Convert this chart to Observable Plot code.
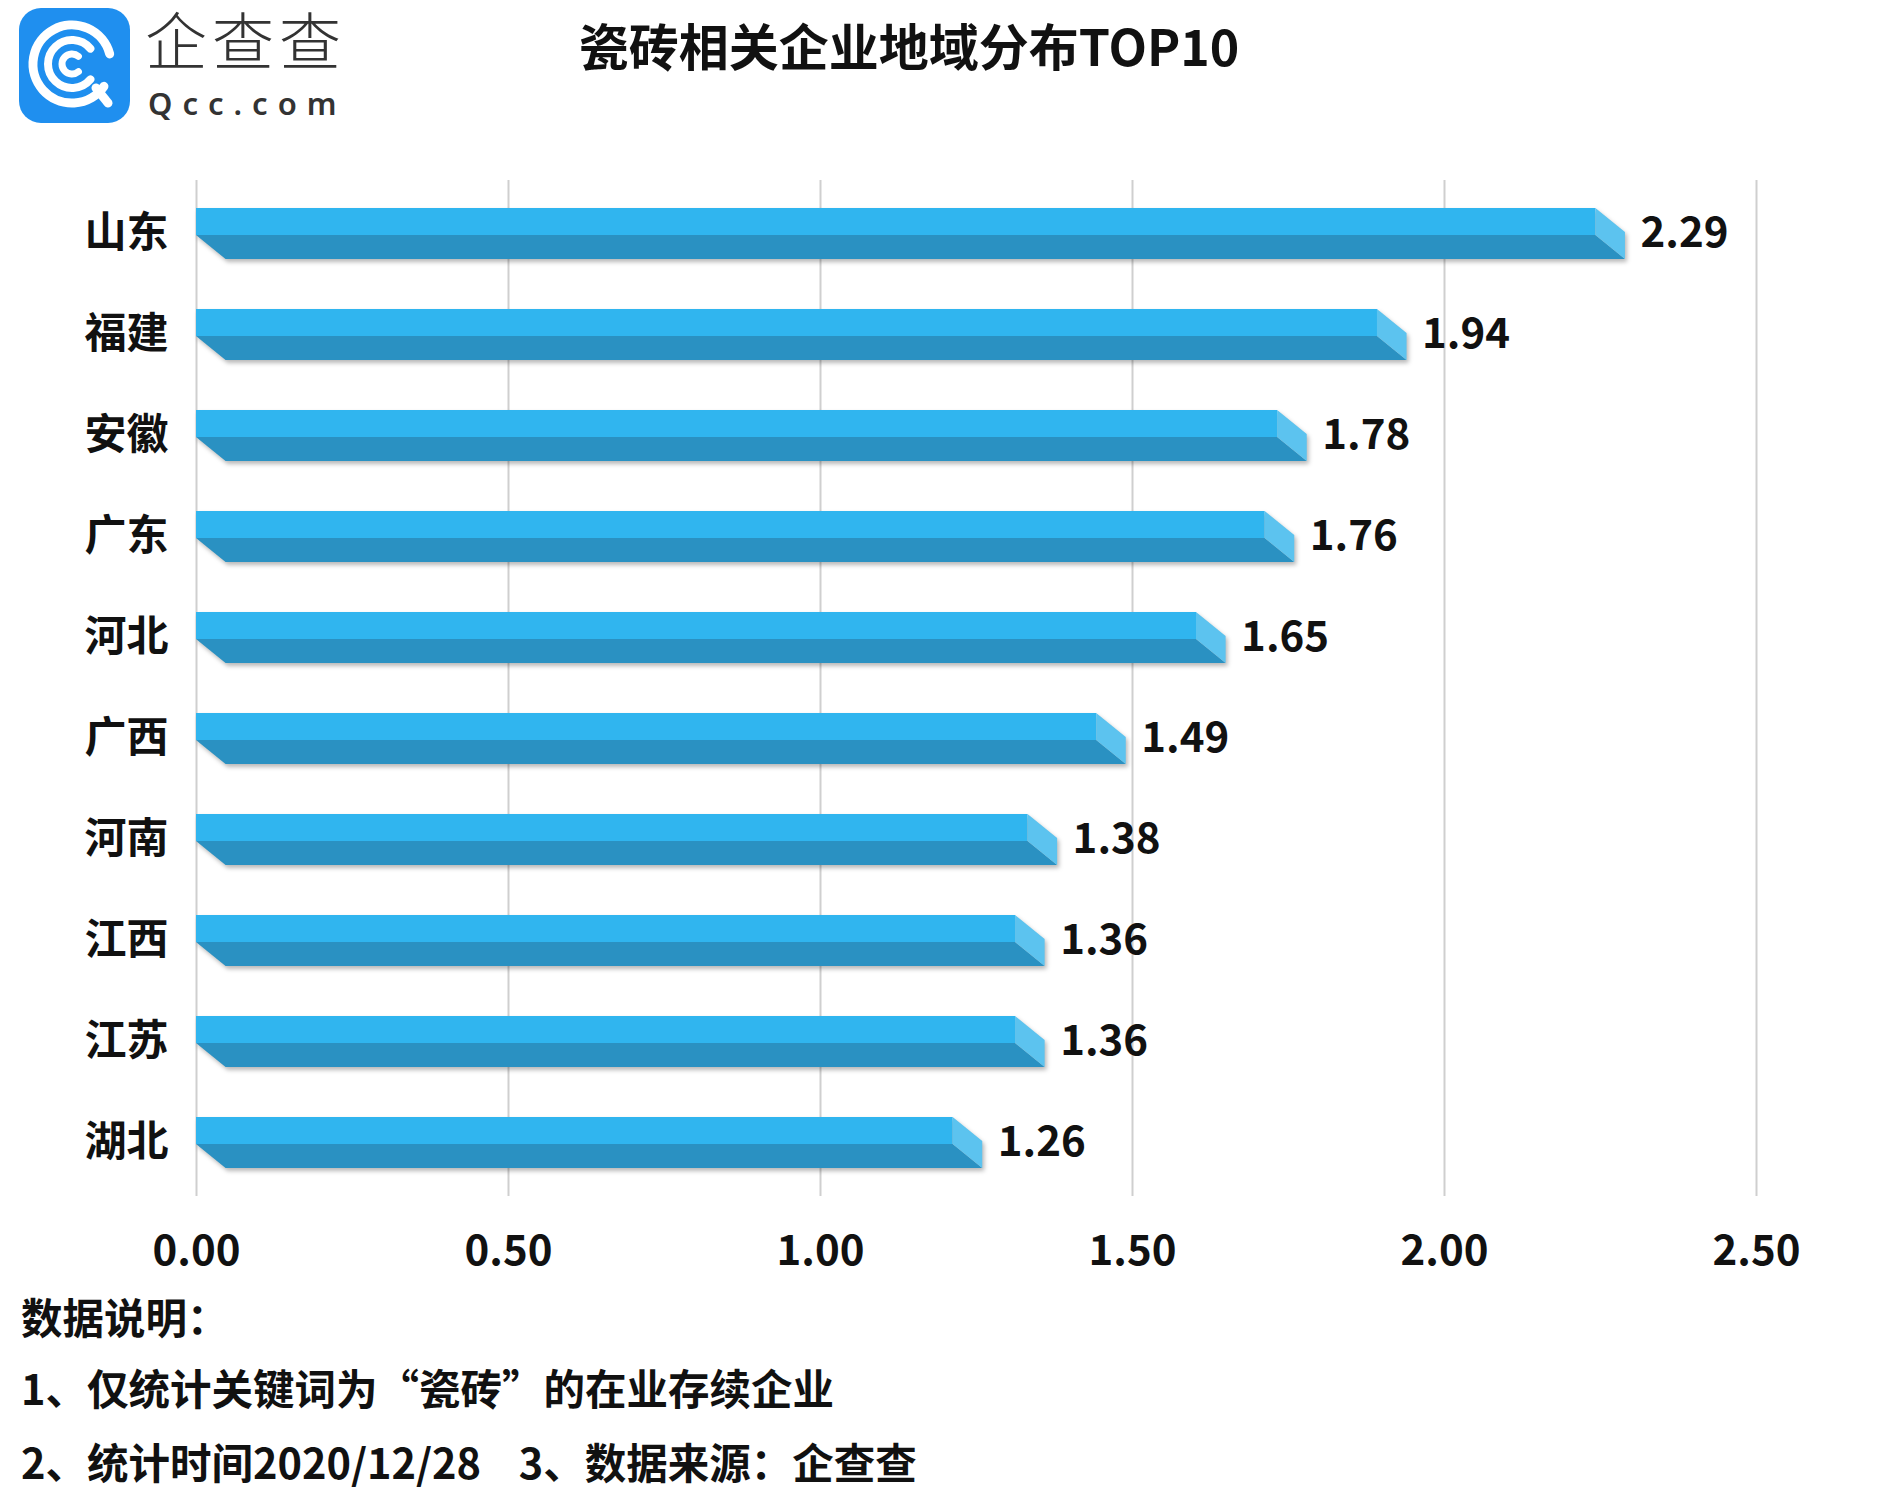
<!DOCTYPE html>
<html>
<head>
<meta charset="utf-8">
<script src="https://cdn.jsdelivr.net/npm/d3@7"></script>
<script src="https://cdn.jsdelivr.net/npm/@observablehq/plot@0.6"></script>
<style>
  html, body { margin: 0; padding: 0; background: #fff; }
  #page { position: relative; width: 1877px; height: 1492px; overflow: hidden; background: #fff;
          font-family: "Noto Sans CJK SC", "Noto Sans", sans-serif; color: #111; }
  #logo { position: absolute; left: 0; top: 0; }
  .logotext { position: absolute; white-space: nowrap; color: #333; }
  #title { position: absolute; left: 909px; top: 17px; transform: translateX(-50%); font-size: 50px;
           font-weight: 700; line-height: 1.1; white-space: nowrap; color: #111; }
  #chart { position: absolute; left: 0; top: 140px; }
  .note { position: absolute; left: 21px; font-size: 41.5px; font-weight: 700; line-height: 1; white-space: pre; color: #111; }
</style>
</head>
<body>
<div id="page">
  <svg id="logo" width="140" height="135"></svg>
  <div class="logotext" style="left:145px; top:0px; font-size:62px; line-height:76px; letter-spacing:5px; font-weight:300; font-family:'Noto Sans CJK SC', sans-serif;">企查查</div>
  <div class="logotext" style="left:148px; top:88px; font-size:31px; line-height:1; font-weight:600; letter-spacing:10px; font-family:'Noto Sans', sans-serif;">Qcc.com</div>
  <div id="title">瓷砖相关企业地域分布TOP10</div>
  <div id="chart"></div>
  <div class="note" style="top:1296px">数据说明：</div>
  <div class="note" style="top:1367px">1、仅统计关键词为“瓷砖”的在业存续企业</div>
  <div class="note" style="top:1441px">2、统计时间2020/12/28    3、数据来源：企查查</div>
</div>
<script>
// ---- data ----
const regions = ["山东", "福建", "安徽", "广东", "河北", "广西", "河南", "江西", "江苏", "湖北"];
const values  = [2.29, 1.94, 1.78, 1.76, 1.65, 1.49, 1.38, 1.36, 1.36, 1.26];
const xTicks  = [0, 0.5, 1, 1.5, 2, 2.5];

const data = regions.map((name, i) => ({name, value: values[i]}));

// ---- logo (decoration) ----
(function drawLogo() {
  const s = d3.select("#logo");
  s.append("rect").attr("x", 19).attr("y", 8).attr("width", 111).attr("height", 115)
    .attr("rx", 22).attr("fill", "#1f8fef");
  const cx = 72, cy = 64;
  function arcPath(r, a0, a1) {
    const rad = d => d * Math.PI / 180;
    const x0 = cx + r * Math.cos(rad(a0)), y0 = cy + r * Math.sin(rad(a0));
    const x1 = cx + r * Math.cos(rad(a1)), y1 = cy + r * Math.sin(rad(a1));
    const large = ((a1 - a0 + 360) % 360) > 180 ? 1 : 0;
    return `M${x0},${y0}A${r},${r} 0 ${large} 1 ${x1},${y1}`;
  }
  const g = s.append("g").attr("fill", "none").attr("stroke", "#fff").attr("stroke-linecap", "round");
  g.append("path").attr("d", arcPath(39, 35, 345)).attr("stroke-width", 9);
  g.append("path").attr("d", arcPath(24, 40, 320)).attr("stroke-width", 8);
  g.append("path").attr("d", arcPath(10, 50, 310)).attr("stroke-width", 7);
  g.append("line").attr("x1", 96).attr("y1", 88).attr("x2", 108).attr("y2", 103).attr("stroke-width", 9);
})();

// ---- chart ----
const chart = Plot.plot({
  width: 1877,
  height: 1150,
  marginTop: 40,
  marginBottom: 94,
  marginLeft: 196,
  marginRight: 121,
  style: {fontFamily: "'Noto Sans CJK SC', 'Noto Sans', sans-serif", fontSize: "42px", fontWeight: 700, color: "#111", background: "transparent"},
  x: {domain: [0, 2.5], ticks: xTicks, tickFormat: d => d.toFixed(2), tickSize: 0, tickPadding: 39, label: null},
  y: {domain: regions, paddingInner: 0.5, paddingOuter: 0.25, tickSize: 0, tickPadding: 28, label: null},
  marks: [
    Plot.ruleX(xTicks, {stroke: "#cfcfcf", strokeWidth: 2}),
    Plot.barX(data, {x: "value", y: "name", fill: "#2fb5ee"}),
    Plot.text(data, {x: "value", y: "name", text: d => d.value.toFixed(2), dx: 15, textAnchor: "start",
                     fontSize: 42, fontWeight: 700, fill: "#111"})
  ]
});
document.getElementById("chart").appendChild(chart);

// turn each flat bar into a pseudo-3D box (top face, front face, right face)
const svgNS = "http://www.w3.org/2000/svg";
chart.querySelectorAll('g[aria-label="bar"] rect').forEach(r => {
  const x = parseFloat(r.getAttribute("x")), y = parseFloat(r.getAttribute("y"));
  const w = parseFloat(r.getAttribute("width")), h = parseFloat(r.getAttribute("height"));
  const xr = x + w;
  const ht = h * 0.53;          // top face height
  const hb = h - ht;            // front face height
  const d = h * 0.58;           // depth offset
  const ym = y + ht;
  const g = document.createElementNS(svgNS, "g");
  g.setAttribute("style", "filter: drop-shadow(2px 3px 2px rgba(0,0,0,0.28))");
  const poly = (pts, fill) => {
    const p = document.createElementNS(svgNS, "polygon");
    p.setAttribute("points", pts.map(q => q.join(",")).join(" "));
    p.setAttribute("fill", fill);
    g.appendChild(p);
  };
  poly([[x, y], [xr - d, y], [xr - d, ym], [x, ym]], "#30b5ef");
  poly([[x, ym], [xr - d, ym], [xr, y + h], [x + d, y + h]], "#2a91c2");
  poly([[xr - d, y], [xr, y + hb], [xr, y + h], [xr - d, ym]], "#5cc3ef");
  r.parentNode.insertBefore(g, r);
  r.remove();
});
</script>
</body>
</html>
